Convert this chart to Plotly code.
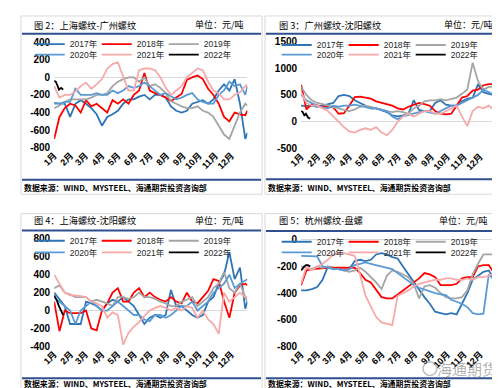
import plotly.graph_objects as go

W, H = 500, 388

months = ["1月", "2月", "3月", "4月", "5月", "6月", "7月", "8月", "9月", "10月", "11月", "12月"]
month_days = [1, 32, 60, 91, 121, 152, 182, 213, 244, 274, 305, 335]
years = ["2017年", "2018年", "2019年", "2020年", "2021年", "2022年"]

days = [1, 11, 21, 31, 41, 51, 61, 71, 81, 91, 101, 111, 121, 131, 141, 151, 161, 171, 181,
        191, 201, 211, 221, 231, 241, 251, 261, 271, 281, 291, 301, 311, 321, 331, 341, 351, 361, 365]
days_2022 = [1, 4, 7, 10, 14, 18]

# 图2 上海螺纹-广州螺纹
sh_gz_2017 = [-290, -300, -300, -450, -300, -260, -300, -350, -420, -550, -450, -420, -380, -300, -250, -250, -220, -200, -250, -200,
              -200, -230, -330, -380, -400, -380, -300, -280, -260, -300, -250, -150, -80, -150, -20, -300, -700, -630]
sh_gz_2018 = [-700, -450, -350, -300, -320, -400, -260, -330, -300, -350, -400, -260, -300, -250, -300, -200, -150, 50, -150, -180,
              -200, -230, -270, -230, -190, -30, 0, 20, -20, -130, -200, -300, -450, -500, -400, -420, -430, -380]
sh_gz_2019 = [-350, -320, -280, -250, -250, -250, -250, -230, -200, -200, -180, -100, -50, -20, 0, 0, -50, 0, -100, -80,
              -120, -180, -270, -300, -330, -350, -350, -330, -380, -400, -450, -550, -650, -700, -550, -400, -300, -320]
sh_gz_2020 = [-300, -300, -280, -280, -130, -200, -200, -200, -180, -200, -200, -150, -180, -150, -100, -120, -100, -60, -100, -150,
              -200, -180, -220, -250, -230, -200, -180, -250, -280, -300, -300, -200, -150, -50, -100, -80, -200, -100]
sh_gz_2021 = [-100, -230, -200, -200, -160, -100, -60, -130, -80, -20, 100, 150, 170, 0, -150, -150, 80, 100, 100, 80,
              0, -120, -200, -150, -100, 0, 50, 100, 80, -50, -150, -180, -250, -250, -200, -170, -100, -80]
sh_gz_2022 = [-40, -50, -90, -140, -120, -140]

# 图3 广州螺纹-沈阳螺纹
gz_sy_2017 = [300, 290, 300, 280, 300, 330, 350, 480, 500, 480, 400, 350, 300, 250, 250, 220, 180, 120, 100, 120,
              150, 400, 220, 200, 200, 350, 400, 320, 300, 300, 380, 430, 450, 700, 550, 520, 500, 450]
gz_sy_2018 = [690, 230, 330, 300, 280, 280, 270, 150, 160, 300, 460, 470, 450, 430, 380, 350, 330, 300, 250, 230,
              280, 320, 350, 330, 300, 200, 150, 140, 150, 300, 450, 480, 580, 600, 680, 700, 700, 680]
gz_sy_2019 = [650, 500, 400, 350, 330, 300, 280, 250, 220, 200, 230, 280, 300, 280, 250, 230, 200, 180, 200, 180,
              150, 250, 300, 380, 400, 400, 420, 400, 430, 450, 520, 600, 1100, 750, 600, 650, 650, 700]
gz_sy_2020 = [500, 400, 350, 300, 270, 250, 300, 280, 300, 300, 320, 300, 280, 250, 250, 230, 200, 100, 50, 100,
              130, 150, 180, 200, 180, 150, 200, 250, 300, 300, 350, 400, 450, 500, 600, 550, 500, 450]
gz_sy_2021 = [550, 350, 300, 300, 250, 200, 100, 0, -100, -180, -200, -150, -120, -150, -100, -200, -250, -150, 0, 100,
              150, 100, 150, 200, 200, 150, 150, 200, 250, 300, 100, -80, 200, 280, 250, 300, 220, 200]
gz_sy_2022 = [200, 180, 120, 150, 80, 60]

# 图4 上海螺纹-沈阳螺纹
sh_sy_2017 = [200, 120, 50, -150, -150, -150, 100, 80, 50, 0, 80, 120, 100, 150, 100, 50, -50, -150, -80, -50,
              -80, -50, 230, 50, 50, 0, -50, -80, -50, 100, 150, 300, 400, 650, 350, 480, 20, 100]
sh_sy_2018 = [100, -230, 0, -30, -30, -30, 0, -200, -220, 0, 80, 200, 250, 100, 100, 200, 250, 150, 200, 150,
              120, 100, 150, 100, 80, 200, 100, 80, 150, 220, 350, 330, 100, -80, 200, 280, 300, 280]
sh_sy_2019 = [250, 280, 200, 180, 150, 150, 150, 100, 120, 100, 80, 50, 150, 150, 130, 150, 200, 150, 150, 130,
              100, 80, 50, 50, 100, 120, 150, 50, 100, 150, 250, 300, 430, 250, 200, 300, 150, 100]
sh_sy_2020 = [150, 100, 50, 0, -150, 0, 50, 100, 50, 0, 0, 50, 100, 50, 0, -50, -50, -100, -120, -50,
              -50, -80, -50, 0, 50, 50, 100, 0, 50, 100, 200, 250, 300, 400, 250, 300, 330, 350]
sh_sy_2021 = [400, 300, 200, 170, 170, 160, 150, 100, 80, 50, -80, -20, -50, -380, -250, -180, -130, -60, 0, 30,
              50, 30, 0, 30, 0, 50, 30, -80, 0, -100, -150, -260, 200, 100, 150, 200, 150, 150]
sh_sy_2022 = [170, 140, 100, 50, 0, -50]

# 图5 杭州螺纹-盘螺
hz_pl_2017 = [-380, -380, -370, -355, -300, -200, -210, -220, -230, -220, -160, -150, -160, -150, -110, -100, -110, -130, -140, -200,
              -260, -320, -380, -430, -480, -540, -550, -560, -550, -560, -480, -400, -300, -270, -240, -230, -300, -320]
hz_pl_2018 = [-340, -230, -220, -215, -210, -210, -210, -210, -210, -210, -210, -250, -300, -320, -380, -430, -440, -440, -410, -380,
              -350, -320, -290, -250, -260, -280, -340, -340, -340, -330, -290, -280, -280, -200, -190, -190, -250, -245]
hz_pl_2019 = [-200, -210, -220, -200, -210, -200, -220, -220, -230, -240, -230, -210, -240, -280, -320, -370, -270, -230, -240, -260,
              -280, -330, -440, -350, -340, -360, -400, -430, -440, -440, -430, -380, -260, -180, -110, -110, -110, -110]
hz_pl_2020 = [-120, -120, -120, -125, -200, -210, -220, -220, -230, -220, -190, -180, -170, -180, -190, -200, -210, -220, -250, -280,
              -310, -340, -360, -375, -390, -400, -410, -415, -450, -465, -480, -505, -550, -560, -555, -260, -300, -330]
hz_pl_2021 = [-330, -200, -230, -200, -180, -150, -110, -100, -100, -110, -120, -260, -420, -500, -580, -620, -630, -640, -420, -400,
              -380, -350, -330, -320, -310, -300, -300, -290, -290, -300, -300, -290, -300, -280, -280, -270, -250, -240]
hz_pl_2022 = [-230, -210, -200, -190, -190, -200]

colors = ["#2E75B6", "#FF0000", "#A5A5A5", "#5B9BD5", "#F7A9A9", "#000000"]


def px(x):
    return x / W


def py(y):
    return 1 - y / H


panels = [
    dict(title="图 2：上海螺纹-广州螺纹", series=[sh_gz_2017, sh_gz_2018, sh_gz_2019, sh_gz_2020, sh_gz_2021, sh_gz_2022],
         yrange=[-800, 400], yticks=[-800, -600, -400, -200, 0, 200, 400],
         plot=(35, 233, 29, 138), box=(1, 2, 248, 186), title_xy=(12, 11), unit_x=177,
         top_line=20.5, bottom_line=171, source_xy=(97.5, 179), legend_xy=(10, 31, 42)),
    dict(title="图 3：广州螺纹-沈阳螺纹", series=[gz_sy_2017, gz_sy_2018, gz_sy_2019, gz_sy_2020, gz_sy_2021, gz_sy_2022],
         yrange=[-500, 1500], yticks=[-500, 0, 500, 1000, 1500],
         plot=(288, 488, 28, 139), box=(251, 2, 498, 186), title_xy=(263, 11), unit_x=432,
         top_line=20.5, bottom_line=170.5, source_xy=(347.5, 179), legend_xy=(263, 32, 42)),
    dict(title="图 4：上海螺纹-沈阳螺纹", series=[sh_sy_2017, sh_sy_2018, sh_sy_2019, sh_sy_2020, sh_sy_2021, sh_sy_2022],
         yrange=[-400, 800], yticks=[-400, -200, 0, 200, 400, 600, 800],
         plot=(35, 233, 232, 343), box=(1, 206, 248, 387), title_xy=(12, 213), unit_x=177,
         top_line=223.5, bottom_line=376, source_xy=(97.5, 381), legend_xy=(10, 234, 246)),
    dict(title="图 5：杭州螺纹-盘螺", series=[hz_pl_2017, hz_pl_2018, hz_pl_2019, hz_pl_2020, hz_pl_2021, hz_pl_2022],
         yrange=[-800, 0], yticks=[-800, -600, -400, -200, 0],
         plot=(288, 488, 233, 343), box=(251, 206, 498, 387), title_xy=(263, 213), unit_x=427,
         top_line=224, bottom_line=376, source_xy=(347.5, 381), legend_xy=(263, 235, 246)),
]

source_text = "数据来源：WIND、MYSTEEL、海通期货投资咨询部"
unit_text = "单位：元/吨"

fig = go.Figure()
shapes = []
annotations = []
layout = {}
cjk = "Noto Sans CJK SC"
num_font = "Liberation Sans, Arial, Noto Sans CJK SC"

for p, cfg in enumerate(panels):
    n = p + 1
    xa = "x" if n == 1 else f"x{n}"
    ya = "y" if n == 1 else f"y{n}"
    x0, x1, y0, y1 = cfg["plot"]
    leg_a = "legend" if p == 0 else f"legend{2 * p + 1}"
    leg_b = f"legend{2 * p + 2}"
    for s, (name, vals) in enumerate(zip(years, cfg["series"])):
        xs = days_2022 if s == 5 else days
        fig.add_trace(go.Scatter(
            x=xs, y=vals, mode="lines", name=name,
            line=dict(color=colors[s], width=1.8),
            xaxis=xa, yaxis=ya, legend=leg_a if s < 3 else leg_b,
        ))
    layout["xaxis" if n == 1 else f"xaxis{n}"] = dict(
        domain=[px(x0), px(x1)], anchor=ya, range=[1, 365],
        tickvals=month_days, ticktext=months, tickangle=-45,
        showgrid=False, zeroline=False, showline=False, ticks="",
        tickfont=dict(family=num_font, size=9, color="#000000", weight="bold"),
        fixedrange=True,
    )
    layout["yaxis" if n == 1 else f"yaxis{n}"] = dict(
        domain=[py(y1), py(y0)], anchor=xa, range=cfg["yrange"],
        tickvals=cfg["yticks"], ticktext=[str(v) for v in cfg["yticks"]],
        showgrid=False, zeroline=True, zerolinecolor="#D9D9D9", zerolinewidth=1,
        showline=False, ticks="", ticklabelstandoff=3,
        tickfont=dict(family=num_font, size=10, color="#000000", weight="bold"),
        fixedrange=True,
    )
    lx, ly1, ly2 = cfg["legend_xy"]
    for leg, ly in ((leg_a, ly1), (leg_b, ly2)):
        layout[leg] = dict(
            x=px(lx), y=py(ly), xanchor="left", yanchor="middle",
            orientation="h", entrywidth=22, entrywidthmode="pixels",
            bgcolor="rgba(0,0,0,0)", borderwidth=0, itemclick=False, itemdoubleclick=False,
            font=dict(family=num_font, size=8.5, color="#262626"),
            tracegroupgap=0,
        )
    bx0, by0, bx1, by1 = cfg["box"]
    shapes.append(dict(type="rect", xref="paper", yref="paper", x0=px(bx0), x1=px(bx1), y0=py(by1), y1=py(by0),
                       line=dict(color="#D9D9D9", width=1), layer="below"))
    for ly in (cfg["top_line"], cfg["bottom_line"]):
        shapes.append(dict(type="line", xref="paper", yref="paper", x0=px(bx0 + 1), x1=px(bx1 - 1), y0=py(ly), y1=py(ly),
                           line=dict(color="#2F4F8F", width=2)))
    tx, ty = cfg["title_xy"]
    annotations.append(dict(text=cfg["title"], x=px(tx), y=py(ty), xref="paper", yref="paper",
                            xanchor="left", yanchor="middle", showarrow=False,
                            font=dict(family=cjk, size=9.2, color="#000000")))
    annotations.append(dict(text=unit_text, x=px(cfg["unit_x"]), y=py(ty), xref="paper", yref="paper",
                            xanchor="left", yanchor="middle", showarrow=False,
                            font=dict(family=cjk, size=9, color="#000000")))
    sx, sy = cfg["source_xy"]
    annotations.append(dict(text=source_text, x=px(sx), y=py(sy), xref="paper", yref="paper",
                            xanchor="center", yanchor="middle", showarrow=False,
                            font=dict(family=cjk, size=7.9, color="#000000", weight="bold")))

annotations.append(dict(text="海通期货", x=px(458), y=py(366), xref="paper", yref="paper",
                        xanchor="center", yanchor="middle", showarrow=False,
                        font=dict(family=cjk, size=15, color="rgba(110,110,110,0.55)")))
shapes.append(dict(type="circle", xref="paper", yref="paper", x0=px(413), x1=px(427), y0=py(373), y1=py(359),
                   line=dict(color="rgba(130,130,130,0.5)", width=1.5)))

fig.update_layout(
    width=W, height=H, margin=dict(l=0, r=0, t=0, b=0),
    paper_bgcolor="white", plot_bgcolor="white",
    shapes=shapes, annotations=annotations, showlegend=True,
    **layout,
)

fig.write_html("out.html")
